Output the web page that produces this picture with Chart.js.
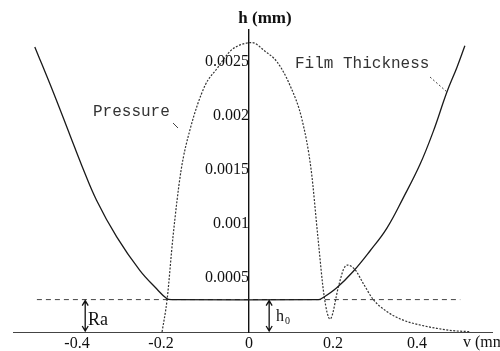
<!DOCTYPE html>
<html>
<head>
<meta charset="utf-8">
<script src="https://cdn.jsdelivr.net/npm/chart.js@4.4.1/dist/chart.umd.min.js"></script>
<style>
    body { margin: 0; background: white; }
    #grafico { display: block; }
</style>
</head>
<body>
<canvas id="grafico" width="500" height="351"></canvas>
<script>
// eixos
const xTicks = [-0.4, -0.2, 0, 0.2, 0.4];
const xTickLabels = ['-0.4  ', '-0.2  ', '0', '0.2', '0.4'];
const yTicks = [0.0005, 0.001, 0.0015, 0.002, 0.0025];
const yTickLabels = ['0.0005', '0.001', '0.0015', '0.002', '0.0025'];

// espessura do filme
const filmX = [-0.510, -0.466, -0.426, -0.398, -0.363, -0.315, -0.260, -0.220, -0.196, -0.185, 0.165, 0.173, 0.209, 0.248, 0.288, 0.328, 0.367, 0.407, 0.439, 0.471, 0.495, 0.514];
const filmH = [0.00264, 0.00222, 0.00182, 0.00154, 0.00122, 0.00088, 0.00057, 0.00040, 0.00031, 0.0003, 0.0003, 0.00031, 0.00041, 0.00056, 0.00075, 0.00096, 0.00124, 0.00155, 0.00186, 0.00222, 0.00245, 0.00265];

// pressao
const pressX = [-0.207, -0.195, -0.181, -0.162, -0.140, -0.105, -0.076, -0.045, -0.026, 0.007, 0.038, 0.067, 0.098, 0.126, 0.148, 0.164, 0.179, 0.193, 0.213, 0.225, 0.234, 0.252, 0.272, 0.296, 0.328, 0.367, 0.407, 0.447, 0.486, 0.526];
const pressH = [0, 0.0003, 0.00088, 0.00149, 0.00188, 0.00228, 0.00244, 0.0026, 0.00265, 0.00268, 0.0026, 0.0025, 0.00228, 0.00197, 0.0015, 0.00088, 0.00033, 0.00012, 0.00042, 0.00058, 0.00062, 0.00058, 0.00045, 0.0003, 0.00019, 0.00011, 0.000065, 0.000034, 0.000012, 0.000003];

// linha Ra
const raX = [-0.505, 0.503];
const raH = [0.0003, 0.0003];

function pares(xs, ys) {
    return xs.map((x, i) => ({ x: x, y: ys[i] }));
}

function seta(ctx, x, y1, y2) {
    ctx.beginPath();
    ctx.moveTo(x, y1);
    ctx.lineTo(x, y2);
    ctx.moveTo(x - 3, y1 + 5);
    ctx.lineTo(x, y1);
    ctx.lineTo(x + 3, y1 + 5);
    ctx.moveTo(x - 3, y2 - 5);
    ctx.lineTo(x, y2);
    ctx.lineTo(x + 3, y2 - 5);
    ctx.stroke();
}

const anotacoes = {
    id: 'anotacoes',
    afterDraw(chart) {
        const ctx = chart.ctx;
        const sx = chart.scales.x;
        const sy = chart.scales.y;
        ctx.save();
        ctx.fillStyle = '#111';
        ctx.strokeStyle = '#111';
        ctx.textBaseline = 'middle';

        ctx.font = 'bold 17px "Liberation Serif"';
        ctx.textAlign = 'center';
        ctx.fillText('h (mm)', sx.getPixelForValue(0) + 16, 19);

        ctx.textAlign = 'left';
        ctx.font = '16px "Liberation Serif"';
        ctx.fillText('v (mm)', 463, 343);

        ctx.fillStyle = '#333';
        ctx.font = '16px "Liberation Mono"';
        ctx.fillText('Pressure', 93, 112);
        ctx.fillText('Film Thickness', 295, 64);

        ctx.lineWidth = 1;
        ctx.strokeStyle = '#444';
        ctx.beginPath();
        ctx.moveTo(173, 123);
        ctx.lineTo(178, 128);
        ctx.stroke();
        ctx.setLineDash([2, 2]);
        ctx.beginPath();
        ctx.moveTo(430, 77);
        ctx.lineTo(447, 92);
        ctx.stroke();
        ctx.setLineDash([]);

        // setas Ra e h0
        const y0 = sy.getPixelForValue(0) - 1;
        const yRa = sy.getPixelForValue(raH[0]) + 1;
        ctx.strokeStyle = '#111';
        ctx.lineWidth = 1.3;
        seta(ctx, sx.getPixelForValue(-0.39), yRa, y0);
        seta(ctx, sx.getPixelForValue(0.048), yRa, y0);

        ctx.fillStyle = '#111';
        ctx.font = '18px "Liberation Serif"';
        ctx.fillText('Ra', 88, 320);
        ctx.font = '16px "Liberation Serif"';
        ctx.fillText('h', 276, 317);
        ctx.font = '10px "Liberation Serif"';
        ctx.fillText('0', 285, 321);
        ctx.restore();
    }
};

new Chart(document.getElementById('grafico'), {
    type: 'line',
    data: {
        datasets: [{
            label: 'Film Thickness',
            data: pares(filmX, filmH),
            borderColor: '#1a1a1a',
            borderWidth: 1.3,
            pointRadius: 0,
            tension: 0.4
        }, {
            label: 'Pressure',
            data: pares(pressX, pressH),
            borderColor: '#333',
            borderWidth: 1.2,
            borderDash: [2, 1.5],
            pointRadius: 0,
            cubicInterpolationMode: 'monotone'
        }, {
            label: 'Ra',
            data: pares(raX, raH),
            borderColor: '#444',
            borderWidth: 1,
            borderDash: [5, 4],
            pointRadius: 0
        }]
    },
    options: {
        responsive: false,
        animation: false,
        layout: {
            padding: { left: 13.8, right: 7.4, top: 29.6, bottom: 0 }
        },
        scales: {
            x: {
                type: 'linear',
                min: -0.56,
                max: 0.58,
                afterBuildTicks: function (axis) {
                    axis.ticks = xTicks.map(v => ({ value: v }));
                },
                afterFit: function (axis) {
                    axis.height = 19;
                },
                ticks: {
                    padding: 2,
                    color: '#111',
                    maxRotation: 0,
                    autoSkip: false,
                    font: { family: '"Liberation Serif"', size: 16 },
                    callback: function (value, index) {
                        return xTickLabels[index];
                    }
                },
                grid: { display: false, drawTicks: false },
                border: { display: true, color: '#444', width: 1, dash: [2, 1] }
            },
            y: {
                type: 'linear',
                position: { x: 0 },
                min: 0,
                max: 0.0028,
                afterBuildTicks: function (axis) {
                    axis.ticks = yTicks.map(v => ({ value: v }));
                },
                ticks: {
                    padding: 8,
                    color: '#111',
                    font: { family: '"Liberation Serif"', size: 16 },
                    callback: function (value, index) {
                        return yTickLabels[index];
                    }
                },
                grid: { display: false, drawTicks: false },
                border: { display: true, color: '#111', width: 1.4 }
            }
        },
        plugins: {
            legend: { display: false },
            tooltip: { enabled: false }
        }
    },
    plugins: [anotacoes]
});
</script>
</body>
</html>
